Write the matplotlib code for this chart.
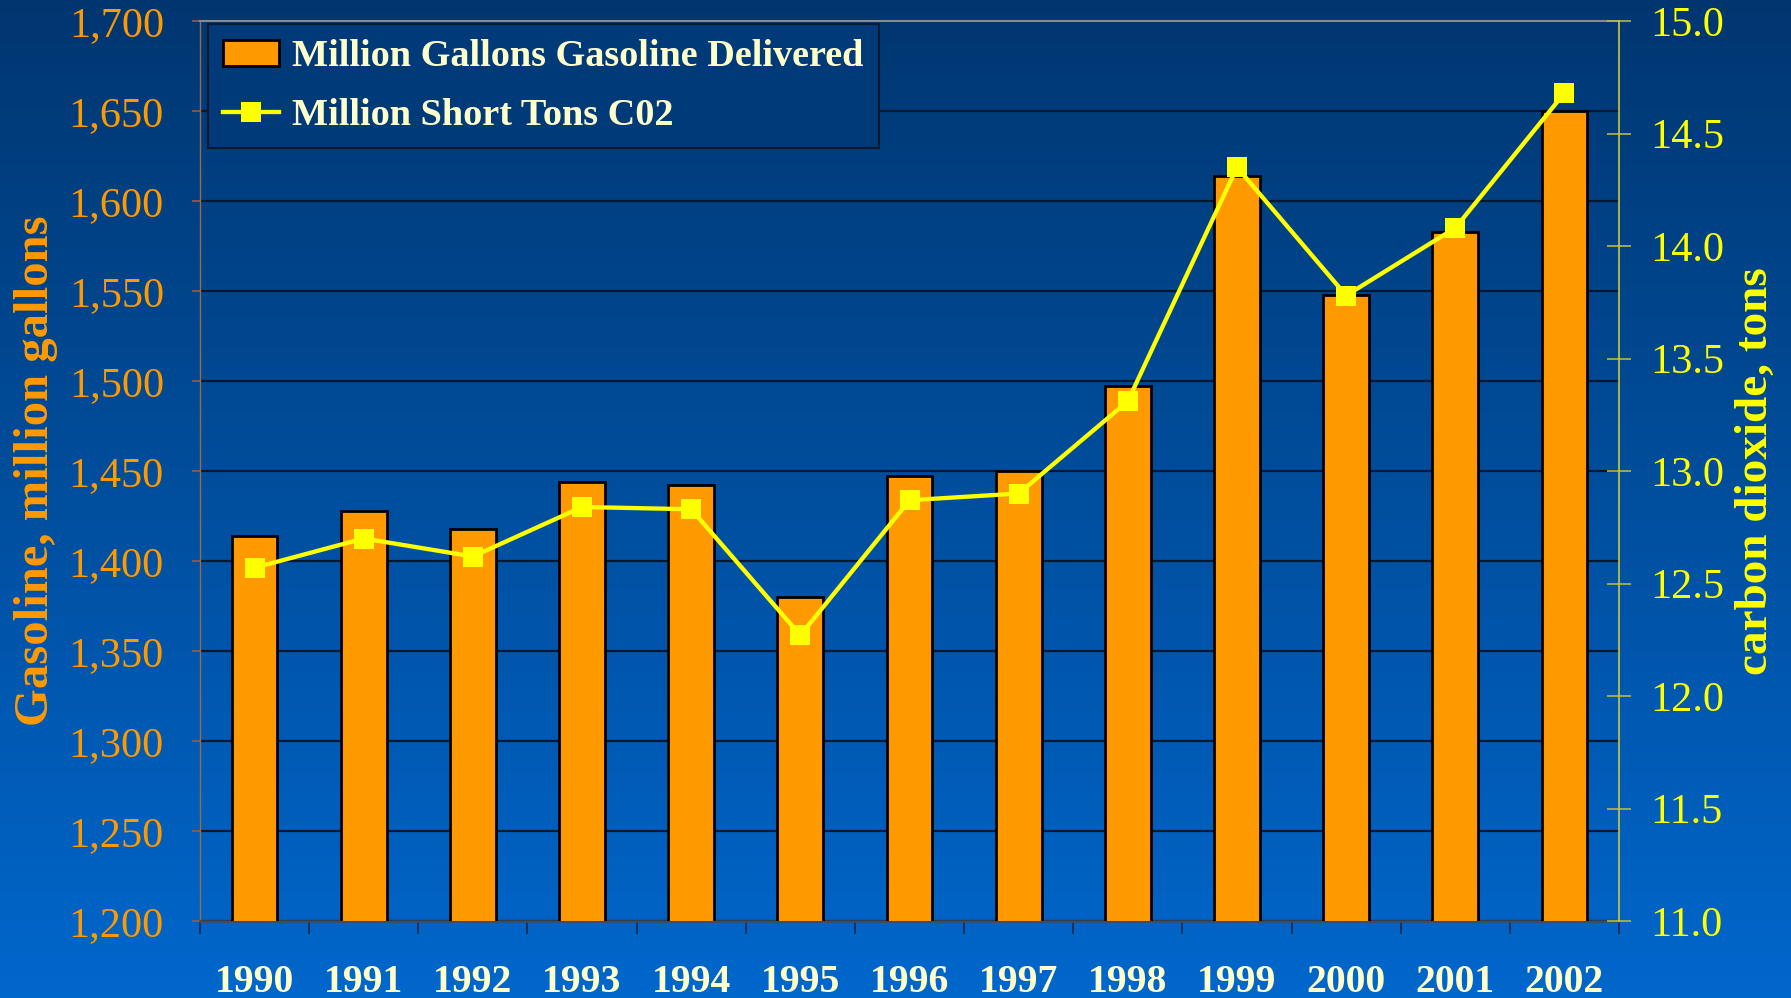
import numpy as np
import matplotlib
matplotlib.use("Agg")
import matplotlib.pyplot as plt
from matplotlib.patches import Patch
from matplotlib.lines import Line2D
from matplotlib.colors import LinearSegmentedColormap

# data
years = ['1990', '1991', '1992', '1993', '1994', '1995', '1996',
         '1997', '1998', '1999', '2000', '2001', '2002']
gasoline = [1414, 1428, 1418, 1444, 1442, 1380, 1447,
            1450, 1497, 1614, 1548, 1583, 1650]
co2 = [12.57, 12.70, 12.62, 12.84, 12.83, 12.27, 12.87,
       12.90, 13.31, 14.35, 13.78, 14.08, 14.68]

left_ticks = [1200, 1250, 1300, 1350, 1400, 1450, 1500, 1550, 1600, 1650, 1700]
right_ticks = [11.0, 11.5, 12.0, 12.5, 13.0, 13.5, 14.0, 14.5, 15.0]

ORANGE = '#ff9900'
YELLOW = '#ffff00'
CREAM = '#ffffcc'

plt.rcParams['font.family'] = ['Liberation Serif', 'DejaVu Serif']

fig = plt.figure(figsize=(17.91, 9.98), dpi=100)

# gradient background
bg = fig.add_axes([0, 0, 1, 1], zorder=-10)
cmap = LinearSegmentedColormap.from_list('bg', ['#003670', '#0067cc'])
bg.imshow(np.linspace(0, 1, 256).reshape(-1, 1), aspect='auto', cmap=cmap,
          extent=[0, 1, 0, 1], origin='upper')
bg.axis('off')

ax = fig.add_axes([200 / 1791, 1 - 921 / 998, 1419 / 1791, 900 / 998])
ax.set_facecolor('none')
x = np.arange(len(years))

ax.bar(x, gasoline, width=0.42, color=ORANGE, edgecolor='black', linewidth=2, zorder=3)
ax.set_xlim(-0.5, len(years) - 0.5)
ax.set_ylim(1200, 1700)
ax.set_yticks(left_ticks)
ax.set_yticklabels([f'{v:,}' for v in left_ticks])
ax.grid(axis='y', color='#021830', linewidth=1.6, zorder=0)
ax.set_axisbelow(True)

ax.set_xticks(x)
ax.set_xticklabels(years, fontweight='bold', color=CREAM, fontsize=28.5)
ax.set_xticks(np.arange(-0.5, len(years)), minor=True)
ax.tick_params(axis='x', which='major', length=0, pad=31)
ax.tick_params(axis='x', which='minor', length=9, width=1.2, color='#1a2a4a', direction='out')
ax.tick_params(axis='y', length=6, width=1.2, color='#a05a3a', labelcolor=ORANGE,
               labelsize=30.5, pad=20)

ax.spines['top'].set_color('#8a8a8a')
ax.spines['top'].set_linewidth(1.5)
ax.spines['left'].set_color('#9a6a4a')
ax.spines['left'].set_linewidth(1.0)
ax.spines['bottom'].set_color('#404a5a')
ax.spines['bottom'].set_linewidth(1.8)
ax.spines['right'].set_visible(False)

ax.set_ylabel('Gasoline, million gallons', color=ORANGE, fontsize=35, fontweight='bold')
ax.yaxis.set_label_coords(-0.100, 0.5)

ax2 = ax.twinx()
ax2.plot(x, co2, color=YELLOW, linewidth=3.1, marker='s', markersize=14,
         markeredgewidth=0, zorder=5)
ax2.set_ylim(11, 15)
ax2.set_yticks(right_ticks)
ax2.set_yticklabels([f'{v:.1f}' for v in right_ticks])
ax2.tick_params(axis='y', direction='inout', length=17, width=1.2, color='#b8b840',
                labelcolor=YELLOW, labelsize=30.5, pad=14)
for s in ['left', 'top', 'bottom']:
    ax2.spines[s].set_visible(False)
ax2.spines['right'].set_color('#c8c840')
ax2.spines['right'].set_linewidth(1.2)
ax2.set_ylabel('carbon dioxide, tons', color=YELLOW, fontsize=34, fontweight='bold',
               rotation=90)
ax2.yaxis.set_label_coords(1.082, 0.5)

handles = [Patch(facecolor=ORANGE, edgecolor='black', linewidth=2),
           Line2D([], [], color=YELLOW, linewidth=3.1, marker='s', markersize=14,
                  markeredgewidth=0)]
labels = ['Million Gallons Gasoline Delivered', 'Million Short Tons C02']
leg = ax2.legend(handles, labels, loc='upper left',
                 bbox_to_anchor=(208 / 1791, 1 - 24 / 998), bbox_transform=fig.transFigure,
                 borderaxespad=0, frameon=True, fancybox=False, facecolor='#003a78',
                 edgecolor='#0a1830', framealpha=1, prop={'weight': 'bold', 'size': 27.5},
                 labelcolor=CREAM, handlelength=1.45, handletextpad=0.35,
                 labelspacing=0.62, borderpad=0.4)
leg.get_frame().set_linewidth(1.5)

fig.savefig('out.png', dpi=100)
